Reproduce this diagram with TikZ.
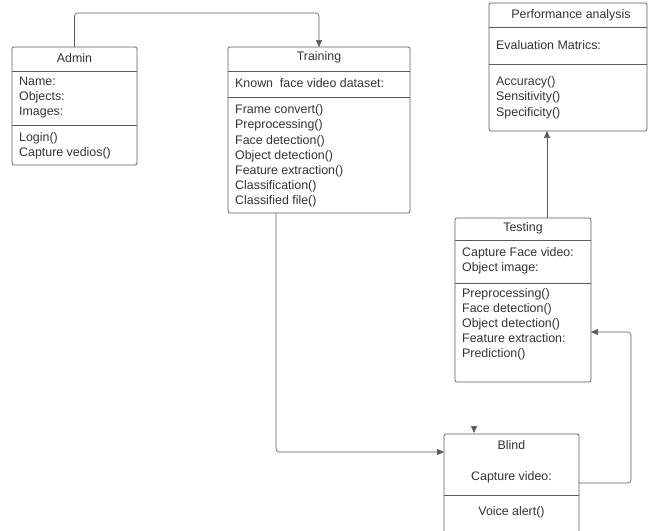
\documentclass[tikz,border=0pt]{standalone}
\usepackage{fontspec}
\setmainfont{Liberation Sans}
\usetikzlibrary{arrows.meta}

\definecolor{linegray}{HTML}{5A5A5A}
\definecolor{textgray}{HTML}{333333}

\tikzset{
  umlbox/.style={draw=linegray, line width=0.7pt, rounded corners=2pt, anchor=north west, inner sep=0pt, outer sep=0pt},
  txt/.style={text=textgray, font=\fontsize{12.4}{15.2}\selectfont, inner sep=0pt},
  lines/.style={txt, align=left, anchor=north west},
  divider/.style={draw=linegray, line width=0.6pt},
  conn/.style={draw=linegray, line width=0.6pt, rounded corners=3pt, -{Triangle[length=7pt,width=6pt]}}
}

\begin{document}
\begin{tikzpicture}[x=1pt,y=-1pt]
\useasboundingbox (0,0) rectangle (649,531);

% class boxes
\node[umlbox, minimum width=125pt, minimum height=118pt] (admin) at (12,47) {};
\node[umlbox, minimum width=182pt, minimum height=166pt] (training) at (228,47) {};
\node[umlbox, minimum width=158pt, minimum height=128pt] (perf) at (489,3) {};
\node[umlbox, minimum width=136pt, minimum height=164pt] (testing) at (455,218) {};
\node[umlbox, minimum width=135pt, minimum height=102pt] (blind) at (444,434) {};

% compartments
\path[divider] (12,71) -- (137,71);
\path[divider] (12,125) -- (137,125);
\path[divider] (228,71) -- (410,71);
\path[divider] (228,97) -- (410,97);
\path[divider] (489,27) -- (647,27);
\path[divider] (489,64) -- (647,64);
\path[divider] (455,240) -- (591,240);
\path[divider] (455,283) -- (591,283);
\path[divider] (444,495) -- (579,495);

% Admin
\node[txt] (admin-title) at (74.5,58) {Admin};
\node[lines] (admin-attr) at (19,76.5) {Name:\\Objects:\\Images:};
\node[lines] (admin-ops) at (19,132) {Login()\\Capture vedios()};

% Training
\node[txt] (training-title) at (319,57) {Training};
\node[lines] (training-attr) at (235,78.5) {Known\ \ face video dataset:};
\node[lines] (training-ops) at (235,104.5) {Frame convert()\\Preprocessing()\\Face detection()\\Object detection()\\Feature extraction()\\Classification()\\Classified file()};

% Performance analysis
\node[txt] (perf-title) at (571,15) {Performance analysis};
\node[lines] (perf-attr) at (496,40.5) {Evaluation Matrics:};
\node[lines] (perf-ops) at (496,76.5) {Accuracy()\\Sensitivity()\\Specificity()};

% Testing
\node[txt] (testing-title) at (523,228) {Testing};
\node[lines] (testing-attr) at (462,247.5) {Capture Face video:\\Object image:};
\node[lines] (testing-ops) at (462,288) {Preprocessing()\\Face detection()\\Object detection()\\Feature extraction:\\Prediction()};

% Blind
\node[txt] (blind-title) at (511.5,445) {Blind};
\node[txt] (blind-attr) at (511.5,477) {Capture video:};
\node[txt] (blind-ops) at (511.5,512) {Voice alert()};

% connectors
\path[conn] (admin.north) -- ++(0,-34) -| (training.north);
\path[conn] ([xshift=48pt]training.south west) |- ([yshift=-18pt]blind.north west);
\path[conn] ([xshift=92pt]testing.north west) -- ([xshift=58pt]perf.south west);
\path[conn] ([yshift=-49pt]blind.north east) -- ++(52,0) |- ([yshift=-114pt]testing.north east);
\coordinate (blind-in) at ([xshift=30pt,yshift=1pt]blind.north west);
\path[conn] ([yshift=7pt]blind-in) -- (blind-in);
\end{tikzpicture}
\end{document}
